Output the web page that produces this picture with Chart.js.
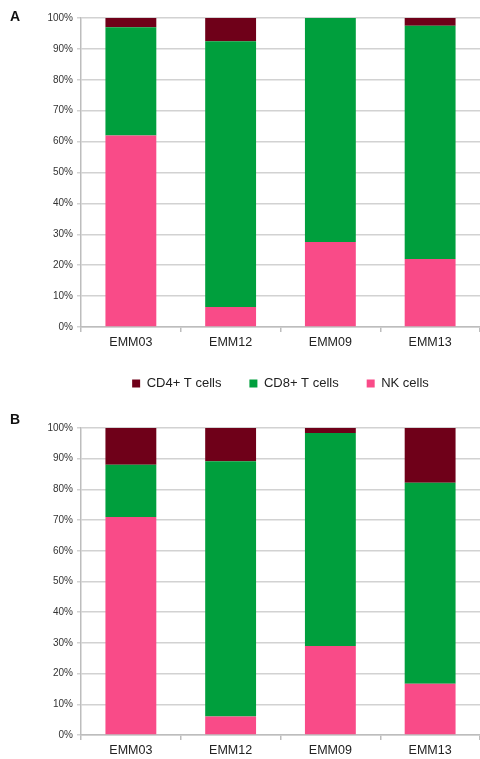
<!DOCTYPE html>
<html>
<head>
<meta charset="utf-8">
<script src="https://cdn.jsdelivr.net/npm/chart.js@4.4.1/dist/chart.umd.min.js"></script>
<style>
  html, body { margin: 0; padding: 0; background: #fff; width: 480px; height: 759px; overflow: hidden; position: relative; }
  .panel { position: absolute; left: 0; width: 480px; }
  #wrapA { top: 0; height: 400px; }
  #wrapB { top: 400px; height: 359px; }
  .tag { position: absolute; left: 10px; font: bold 14px "Liberation Sans", Arial, sans-serif; color: #111; }
</style>
</head>
<body>
<div class="panel" id="wrapA"><canvas id="chartA" width="480" height="400"></canvas></div>
<div class="panel" id="wrapB"><canvas id="chartB" width="480" height="359"></canvas></div>
<div class="tag" style="top:8px">A</div>
<div class="tag" style="top:411px">B</div>
<script>
// Sample names along the x axis
const samples = ['EMM03', 'EMM12', 'EMM09', 'EMM13'];

// Panel A: share of each cell type (%)
const nkA  = [62, 6.5, 27.5, 22];
const cd8A = [35, 86, 72.5, 75.5];
const cd4A = [3, 7.5, 0, 2.5];

// Panel B: share of each cell type (%)
const nkB  = [71, 6, 29, 16.7];
const cd8B = [17, 83.2, 69.4, 65.5];
const cd4B = [12, 10.8, 1.6, 17.8];

// Y axis tick values
const yTicks = [0, 10, 20, 30, 40, 50, 60, 70, 80, 90, 100];

const COLORS = { cd4: '#6f0019', cd8: '#009f3d', nk: '#f94b88' };

Chart.defaults.font.family = '"Liberation Sans", Arial, Helvetica, sans-serif';
Chart.defaults.color = '#333';

// Left edge of the plot area (y axis line) in both panels
const AXIS_X = 81;

// Centre the legend under the plot area rather than the whole canvas
const legendUnderPlot = {
  id: 'legendUnderPlot',
  afterLayout(chart) {
    const lg = chart.legend;
    if (lg && lg.options.display) {
      lg.left = chart.chartArea.left;
      lg.right = chart.chartArea.right;
      lg.width = lg.right - lg.left;
    }
  }
};

function makeChart(canvasId, nk, cd8, cd4, opts) {
  return new Chart(document.getElementById(canvasId), {
    type: 'bar',
    data: {
      labels: samples,
      datasets: [
        { label: 'NK cells', data: nk, backgroundColor: COLORS.nk },
        { label: 'CD8+ T cells', data: cd8, backgroundColor: COLORS.cd8 },
        { label: 'CD4+ T cells', data: cd4, backgroundColor: COLORS.cd4 }
      ]
    },
    plugins: [legendUnderPlot],
    options: {
      responsive: false,
      animation: false,
      datasets: { bar: { categoryPercentage: 1, barPercentage: 0.51, borderWidth: 0 } },
      layout: { padding: { top: opts.top, left: 0, right: 0, bottom: 0 } },
      plugins: {
        tooltip: { enabled: false },
        legend: {
          display: opts.legend,
          position: 'bottom',
          reverse: true,
          labels: {
            boxWidth: 8, boxHeight: 8, padding: 28,
            color: '#222',
            font: { size: 13 }
          }
        }
      },
      scales: {
        x: {
          stacked: true,
          border: { color: '#bdbdbd', width: 1.5 },
          grid: { drawOnChartArea: false, drawTicks: true, tickLength: 5, color: '#bdbdbd', lineWidth: 1.5 },
          ticks: { color: '#222', font: { size: 12.5 }, padding: 3 },
          afterFit: s => { s.height = opts.xh; }
        },
        y: {
          stacked: true,
          min: 0, max: 100,
          afterBuildTicks: s => { s.ticks = yTicks.map(v => ({ value: v })); },
          border: { color: '#bdbdbd', width: 1.5 },
          grid: { color: '#d2d2d2', lineWidth: 1.5, tickLength: 4 },
          ticks: { color: '#333', font: { size: 10 }, padding: 4, callback: v => v + '%' },
          afterFit: s => { s.width = AXIS_X; }
        }
      }
    }
  });
}

makeChart('chartA', nkA, cd8A, cd4A, { top: 18, xh: 22, legend: true });
makeChart('chartB', nkB, cd8B, cd4B, { top: 28, xh: 24, legend: false });
</script>
</body>
</html>
